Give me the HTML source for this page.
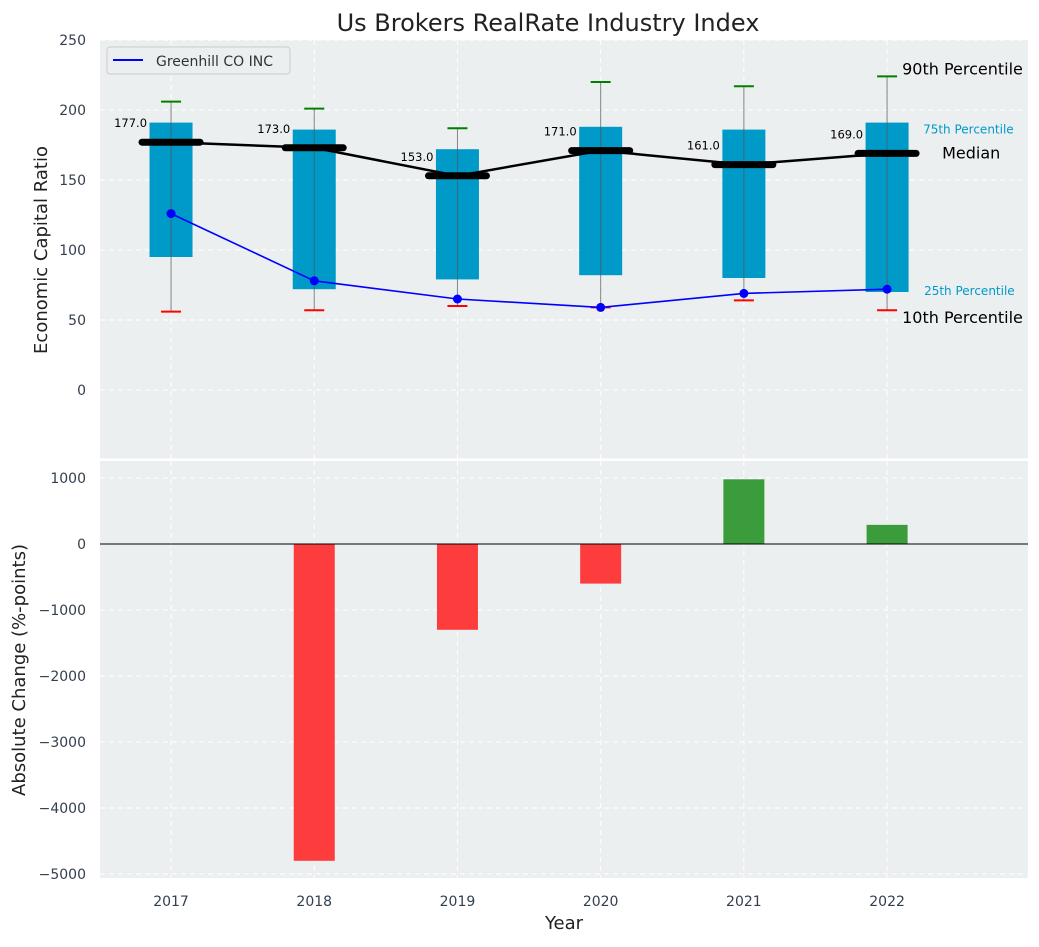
<!DOCTYPE html>
<html><head><meta charset="utf-8"><style>
body{margin:0;background:#fff;font-family:"Liberation Sans","DejaVu Sans",sans-serif;}
svg text{font-family:"DejaVu Sans","Liberation Sans",sans-serif;}
</style></head><body>
<svg id="c" width="1039" height="942" xmlns="http://www.w3.org/2000/svg"></svg>
<script>
const years=[2017,2018,2019,2020,2021,2022];
const p10=[56,57,60,59,64,57];
const q1=[95,72,79,82,80,70];
const med=[177,173,153,171,161,169];
const q3=[191,186,172,188,186,191];
const p90=[206,201,187,220,217,224];
const company=[126,78,65,59,69,72];
const changes=[0,-4800,-1300,-600,980,290];
const topTicks=[0,50,100,150,200,250];
const botTicks=[-5000,-4000,-3000,-2000,-1000,0,1000];

const NS="http://www.w3.org/2000/svg";
const svg=document.getElementById('c');
function el(t,a,p){const e=document.createElementNS(NS,t);for(const k in a)e.setAttribute(k,a[k]);(p||svg).appendChild(e);return e;}
const L=100,R=1028;
const x=v=>L+(v-2016.504)/6.48*(R-L);
const T0=40,T1=460;
const yt=v=>T1-(v+50)/300*(T1-T0);
const B0=461,B1=878;
const yb=v=>544-v*0.066;

let r=el('rect',{x:L,y:T0,width:R-L,height:T1-T0,fill:'#ebeff0'});

r=el('rect',{x:L,y:B0,width:R-L,height:B1-B0,fill:'#ebeff0'});


years.forEach(yv=>{
 el('line',{x1:x(yv),x2:x(yv),y1:T0,y2:T1,stroke:'#fff','stroke-dasharray':'5,4','stroke-width':1});
 el('line',{x1:x(yv),x2:x(yv),y1:B0,y2:B1,stroke:'#fff','stroke-dasharray':'5,4','stroke-width':1});
});
topTicks.forEach(v=>{
 el('line',{x1:L,x2:R,y1:yt(v),y2:yt(v),stroke:'#fff','stroke-dasharray':'5,4'});
 const t=el('text',{x:86,y:yt(v)+5,'text-anchor':'end','font-size':14,fill:'#333f4f'});t.textContent=v;
 
});
botTicks.forEach(v=>{
 el('line',{x1:L,x2:R,y1:yb(v),y2:yb(v),stroke:'#fff','stroke-dasharray':'5,4'});
 const t=el('text',{x:86,y:yb(v)+5,'text-anchor':'end','font-size':14,fill:'#333f4f'});t.textContent=v<0?'\u2212'+(-v):v;
 
});

const bw=43;
years.forEach((yv,i)=>{
 const cx=x(yv);
 const b=el('rect',{x:cx-bw/2,y:yt(q3[i]),width:bw,height:yt(q1[i])-yt(q3[i]),fill:'#009ac9'});
 
 el('line',{x1:cx,x2:cx,y1:yt(p10[i]),y2:yt(p90[i]),stroke:'#555','stroke-width':1,opacity:0.7});
 el('line',{x1:cx-10,x2:cx+10,y1:yt(p90[i]),y2:yt(p90[i]),stroke:'green','stroke-width':2});
 el('line',{x1:cx-10,x2:cx+10,y1:yt(p10[i]),y2:yt(p10[i]),stroke:'red','stroke-width':2});
});
let m=el('polyline',{points:years.map((yv,i)=>x(yv)+','+yt(med[i])).join(' '),fill:'none',stroke:'#000','stroke-width':2.5});

years.forEach((yv,i)=>{
 const cx=x(yv);
 el('line',{x1:cx-29,x2:cx+29,y1:yt(med[i]),y2:yt(med[i]),stroke:'#000','stroke-width':7,'stroke-linecap':'round'});
 const t=el('text',{x:cx-24,y:yt(med[i])-15,'text-anchor':'end','font-size':11.5,fill:'#000'});t.textContent=med[i].toFixed(1);
 
});
let cl=el('polyline',{points:years.map((yv,i)=>x(yv)+','+yt(company[i])).join(' '),fill:'none',stroke:'blue','stroke-width':1.6});

years.forEach((yv,i)=>{el('circle',{cx:x(yv),cy:yt(company[i]),r:4.5,fill:'blue'});});

const last=years.length-1,lx=x(years[last]);
[['90th Percentile',lx+15,yt(p90[last])-2,16,'#000'],['75th Percentile',lx+36,yt(q3[last])+11,12,'#009ac9'],['Median',lx+55,yt(med[last])+5,16,'#000'],['25th Percentile',lx+37,yt(q1[last])+3,12,'#009ac9'],['10th Percentile',lx+15,yt(p10[last])+13,16,'#000']].forEach(a=>{
 const t=el('text',{x:a[1],y:a[2],'font-size':a[3],fill:a[4]});t.textContent=a[0];
 
});

const lg=el('g',{});
el('rect',{x:107,y:47,width:183,height:27,rx:3,fill:'#ebeff0',stroke:'#ccc'},lg);
el('line',{x1:113,x2:143,y1:60,y2:60,stroke:'blue','stroke-width':2},lg);
let lt=el('text',{x:156,y:66,'font-size':14,fill:'#333'},lg);lt.textContent='Greenhill CO INC';

el('line',{x1:L,x2:R,y1:459.5,y2:459.5,stroke:'#fff','stroke-width':2});

years.forEach((yv,i)=>{
 const v=changes[i];if(v===0)return;
 const y0=yb(Math.max(v,0)),h=Math.abs(yb(v)-yb(0));
 const b=el('rect',{x:x(yv)-20.5,y:y0,width:41,height:h,fill:v<0?'#fd3d3d':'#3b9c3b'});
 
});
el('line',{x1:L,x2:R,y1:yb(0),y2:yb(0),stroke:'#000','stroke-width':1});

years.forEach(yv=>{const t=el('text',{x:x(yv),y:906,'text-anchor':'middle','font-size':14,fill:'#333f4f'});t.textContent=yv;
 });

let t=el('text',{x:548,y:31,'text-anchor':'middle','font-size':24,fill:'#222'});t.textContent='Us Brokers RealRate Industry Index';

t=el('text',{x:564,y:929,'text-anchor':'middle','font-size':18,fill:'#222'});t.textContent='Year';

t=el('text',{x:47,y:250,'text-anchor':'middle','font-size':18,fill:'#222',transform:'rotate(-90 47 250)'});t.textContent='Economic Capital Ratio';

t=el('text',{x:25,y:670,'text-anchor':'middle','font-size':18,fill:'#222',transform:'rotate(-90 25 670)'});t.textContent='Absolute Change (%-points)';

</script>
</body></html>
